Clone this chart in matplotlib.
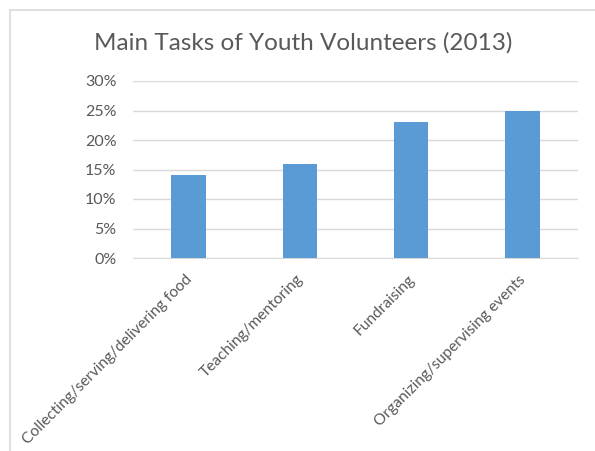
import matplotlib.pyplot as plt
from matplotlib.patches import Rectangle
from matplotlib.ticker import PercentFormatter
from matplotlib.transforms import ScaledTranslation

# data
tasks = ['Collecting/serving/delivering food', 'Teaching/mentoring',
         'Fundraising', 'Organizing/supervising events']
shares = [0.14, 0.16, 0.23, 0.25]
yticks = [0, 0.05, 0.10, 0.15, 0.20, 0.25, 0.30]

plt.rcParams['font.family'] = ['Lato', 'DejaVu Sans']
grey = '#595959'

fig = plt.figure(figsize=(5.95, 4.51), dpi=100)

# chart border (cropped on the right and bottom)
fig.patches.append(Rectangle((10 / 595, -0.1), 1.2, 1 - 10 / 451 + 0.1,
                             transform=fig.transFigure, fill=False,
                             edgecolor='#d9d9d9', linewidth=1.2))

ax = fig.add_axes([133 / 595, 1 - 258 / 451, (578 - 133) / 595, (258 - 81) / 451])
x = range(len(tasks))
ax.bar(x, shares, width=0.31, color='#5b9bd5', zorder=3)
ax.set_xlim(-0.5, len(tasks) - 0.5)
ax.set_ylim(0, 0.30)
ax.set_yticks(yticks)
ax.yaxis.set_major_formatter(PercentFormatter(1.0, decimals=0))
ax.grid(axis='y', color='#d9d9d9', linewidth=1, zorder=0)
for s in ['top', 'right', 'left']:
    ax.spines[s].set_visible(False)
ax.spines['bottom'].set_color('#d9d9d9')
ax.tick_params(axis='both', length=0, colors=grey)
ax.tick_params(axis='y', pad=12, labelsize=11.5)
ax.tick_params(axis='x', pad=6, labelsize=11.2)
ax.set_xticks(list(x))
ax.set_xticklabels(tasks, rotation=45, ha='right', rotation_mode='anchor')
# nudge the rotated labels a little down-left, as in the original
shift = ScaledTranslation(-4 / 100, -6 / 100, fig.dpi_scale_trans)
for lab in ax.get_xticklabels():
    lab.set_transform(lab.get_transform() + shift)

fig.text(303 / 595, 1 - 43 / 451, 'Main Tasks of Youth Volunteers (2013)',
         ha='center', va='center', fontsize=17.5, color=grey)

plt.savefig('out.png', dpi=100)
